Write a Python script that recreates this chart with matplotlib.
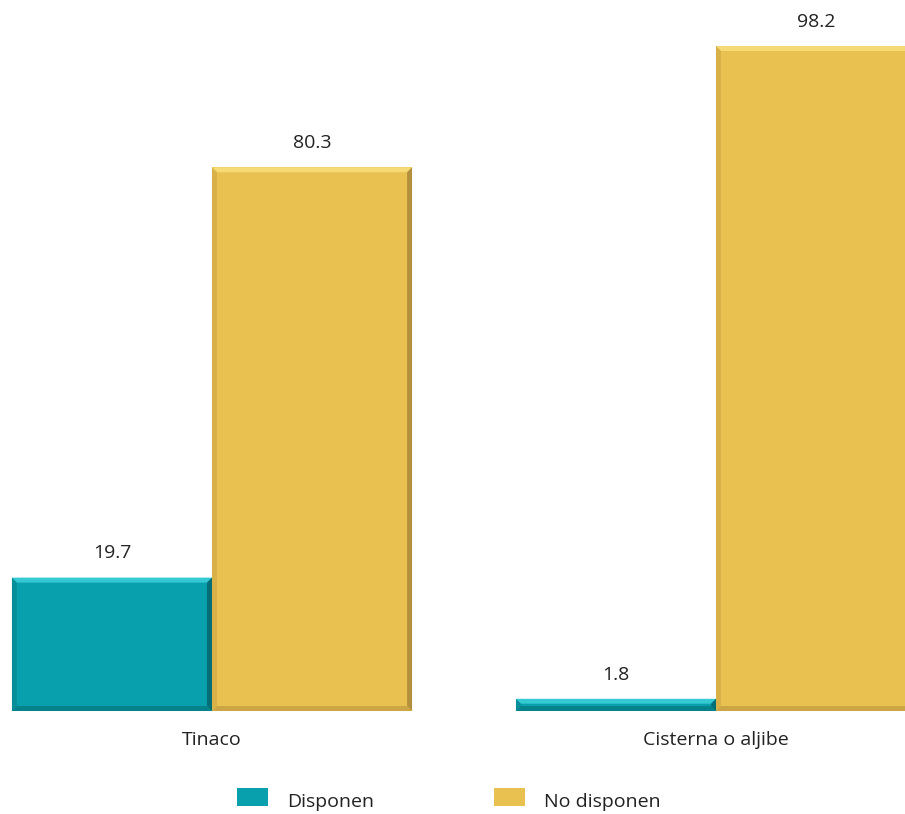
import matplotlib
matplotlib.use("Agg")
import matplotlib.pyplot as plt
from matplotlib.patches import Polygon, Rectangle
from matplotlib.transforms import IdentityTransform

categories = ["Tinaco", "Cisterna o aljibe"]
series_names = ["Disponen", "No disponen"]
disponen = [19.7, 1.8]
no_disponen = [80.3, 98.2]

colors = ["#08A0AC", "#E8C150"]
light = ["#35C9D4", "#F6DA75"]
dark = ["#04656D", "#A9883A"]
mid = ["#067F88", "#C9A443"]

plt.rcParams['font.family'] = ['Open Sans', 'DejaVu Sans']
FS = 14

fig = plt.figure(figsize=(9.05, 8.14), dpi=100)
ax = fig.add_axes([0, (814 - 711) / 814, 1, 711 / 814])
ax.set_xlim(-0.4206, 1.375)
ax.set_ylim(0, 105.0)
ax.axis('off')

w = 0.397
xs = list(range(len(categories)))
bars1 = ax.bar([x - w / 2 for x in xs], disponen, width=w, color=colors[0], linewidth=0)
bars2 = ax.bar([x + w / 2 for x in xs], no_disponen, width=w, color=colors[1], linewidth=0)

fig.canvas.draw()
bv = 5
for si, bars in enumerate([bars1, bars2]):
    for b in bars:
        (x0, y0), (x1, y1) = ax.transData.transform([(b.get_x(), 0), (b.get_x() + b.get_width(), b.get_height())])
        e = min(bv, (y1 - y0) / 2.5)
        fig.patches.append(Polygon([(x0, y1), (x1, y1), (x1 - e, y1 - e), (x0 + e, y1 - e)],
                                   closed=True, facecolor=light[si], edgecolor='none',
                                   transform=IdentityTransform(), figure=fig))
        fig.patches.append(Polygon([(x0, y0), (x0, y1), (x0 + e, y1 - e), (x0 + e, y0 + e)],
                                   closed=True, facecolor=mid[si], edgecolor='none', alpha=0.5,
                                   transform=IdentityTransform(), figure=fig))
        fig.patches.append(Polygon([(x1, y0), (x1, y1), (x1 - e, y1 - e), (x1 - e, y0 + e)],
                                   closed=True, facecolor=dark[si], edgecolor='none', alpha=0.85,
                                   transform=IdentityTransform(), figure=fig))
        fig.patches.append(Polygon([(x0, y0), (x1, y0), (x1 - e, y0 + e), (x0 + e, y0 + e)],
                                   closed=True, facecolor=mid[si], edgecolor='none', alpha=0.9,
                                   transform=IdentityTransform(), figure=fig))

for bars, vals in [(bars1, disponen), (bars2, no_disponen)]:
    for b, v in zip(bars, vals):
        ax.annotate(f"{v:.1f}", (b.get_x() + b.get_width() / 2, v), xytext=(0, 17.5),
                    textcoords='offset points', ha='center', va='center',
                    fontsize=FS, color='#222222')

for x, c in zip(xs, categories):
    ax.annotate(c, (x, 0), xytext=(0, -21), textcoords='offset points',
                ha='center', va='center', fontsize=FS, color='#222222')

# legend
leg_items = [(237, series_names[0], colors[0]), (494, series_names[1], colors[1])]
for px, name, col in leg_items:
    fig.patches.append(Rectangle((px / 905, (814 - 806) / 814), 31 / 905, 18 / 814,
                                 facecolor=col, edgecolor='none', transform=fig.transFigure, figure=fig))
    fig.text((px + 50) / 905, (814 - 802) / 814, name, ha='left', va='center',
             fontsize=FS, color='#222222')

fig.savefig("out.png", dpi=100)
